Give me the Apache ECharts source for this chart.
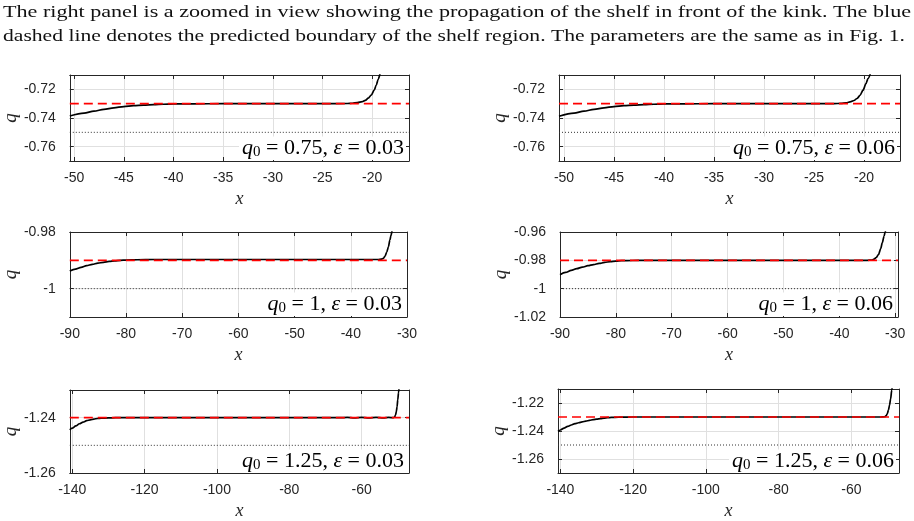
<!DOCTYPE html>
<html>
<head>
<meta charset="utf-8">
<script src="https://cdn.jsdelivr.net/npm/echarts@6/dist/echarts.min.js"></script>
<style>
  html, body { margin: 0; padding: 0; background: #fff; }
  #chart { width: 914px; height: 521px; }
</style>
</head>
<body>
<div id="chart"></div>
<script>
// ================* SHELF PANELS *

const captionLines = [
    'The right panel is a zoomed in view showing the propagation of the shelf in front of the kink. The blue',
    'dashed line denotes the predicted boundary of the shelf region. The parameters are the same as in Fig. 1.'
];

// panel labels (q0, epsilon)
const q0Labels = ['0.75', '0.75', '1', '1', '1.25', '1.25'];
const epsLabels = ['0.03', '0.06', '0.03', '0.06', '0.03', '0.06'];

// shelf level (red dashed) and q = -q0 (dotted)
const shelfQ = [-0.73, -0.73, -0.99, -0.98, -1.24, -1.23];
const baseQ = [-0.75, -0.75, -1, -1, -1.25, -1.25];

// axis limits and tick steps
const xMin = [-50.43, -50.5, -90, -90, -140.66, -140.66];
const xMax = [-16.3, -16.4, -30, -29.5, -46.9, -46.9];
const xStep = [5, 5, 10, 10, 20, 20];
const qMin = [-0.77, -0.77, -1.01, -1.02, -1.26, -1.27];
const qMax = [-0.71, -0.71, -0.98, -0.96, -1.23, -1.21];
const qStep = [0.02, 0.02, 0.02, 0.02, 0.02, 0.02];

// --curves
const x1 = [-50.43, -49, -48, -47, -46, -45, -44, -43, -42, -41, -40, -38, -35, -30, -25, -22.5, -22, -21.5, -21, -20.7, -20.4, -20.1, -19.8, -19.6, -19.4, -19.2];
const q1 = [-0.7386, -0.7366, -0.7352, -0.7340, -0.7329, -0.7320, -0.7314, -0.7310, -0.7307, -0.7304, -0.7302, -0.7301, -0.7300, -0.7300, -0.7300, -0.7299, -0.7297, -0.7293, -0.7286, -0.7277, -0.7262, -0.7240, -0.7205, -0.7172, -0.7130, -0.7085];

const x2 = [-50.5, -49, -48, -47, -46, -45, -44, -43, -42, -41, -40, -38, -35, -30, -25, -23, -22.3, -21.8, -21.3, -21, -20.7, -20.4, -20.1, -19.8, -19.6, -19.3];
const q2 = [-0.7388, -0.7366, -0.7352, -0.7340, -0.7329, -0.7320, -0.7314, -0.7310, -0.7307, -0.7304, -0.7302, -0.7301, -0.7300, -0.7300, -0.7300, -0.7300, -0.7298, -0.7294, -0.7286, -0.7278, -0.7264, -0.7242, -0.7206, -0.7160, -0.7125, -0.7075];

const x3 = [-90, -89, -88, -87, -86, -85, -84, -83, -82, -81, -80, -78, -75, -60, -45, -36, -35.1, -34.6, -34.2, -33.9, -33.6, -33.3, -33.05, -32.85, -32.65, -32.45];
const q3 = [-0.9938, -0.9931, -0.9925, -0.9919, -0.9914, -0.9910, -0.9907, -0.9904, -0.9902, -0.9900, -0.9899, -0.9898, -0.9897, -0.9897, -0.9897, -0.9897, -0.9897, -0.9896, -0.9893, -0.9885, -0.9871, -0.9852, -0.9829, -0.9812, -0.9797, -0.9778];

const x4 = [-90, -89, -88, -87, -86, -85, -84, -83, -82, -81, -80, -79, -77, -75, -60, -45, -35, -34.2, -33.8, -33.4, -33.0, -32.6, -32.3, -32.0, -31.8, -31.6];
const q4 = [-0.9901, -0.9885, -0.9871, -0.9859, -0.9848, -0.9838, -0.9830, -0.9822, -0.9815, -0.9809, -0.9805, -0.9802, -0.9801, -0.9800, -0.9800, -0.9800, -0.9800, -0.9798, -0.9792, -0.9780, -0.9760, -0.9718, -0.9675, -0.9630, -0.9600, -0.9570];

const x5 = [-140.66, -140, -139, -138, -137, -136, -135, -134, -133, -132, -130, -128, -120, -100, -80, -70, -66, -64, -62, -60, -58, -56, -54, -52.5, -51.2, -50.9, -50.6, -50.4, -50.2, -50.0, -49.8, -49.6];
const q5 = [-1.2444, -1.2438, -1.2430, -1.2422, -1.2416, -1.2411, -1.2408, -1.2405, -1.2403, -1.2402, -1.2401, -1.2400, -1.2400, -1.2400, -1.2400, -1.2400, -1.2400, -1.2399, -1.2401, -1.2399, -1.2401, -1.2399, -1.2401, -1.2399, -1.2400, -1.2398, -1.2390, -1.2378, -1.2360, -1.2335, -1.2310, -1.2285];

const x6 = [-140.66, -140, -139, -138, -137, -136, -135, -134, -133, -132, -131, -130, -129, -128, -127, -126, -124, -120, -100, -80, -60, -52, -50.8, -50.4, -50.1, -49.8, -49.5, -49.2, -48.9, -48.7];
const q6 = [-1.2403, -1.2393, -1.2379, -1.2367, -1.2357, -1.2348, -1.2341, -1.2335, -1.2329, -1.2324, -1.2319, -1.2315, -1.2311, -1.2308, -1.2305, -1.2303, -1.2301, -1.2300, -1.2300, -1.2300, -1.2300, -1.2300, -1.2298, -1.2290, -1.2275, -1.2250, -1.2215, -1.2170, -1.2110, -1.2070];

const curvesX = [x1, x2, x3, x4, x5, x6];
const curvesQ = [q1, q2, q3, q4, q5, q6];

// layout of the six boxes (px)
const boxes = [
    { left: 68, top: 75, width: 341, height: 86 },
    { left: 559, top: 75, width: 341, height: 86 },
    { left: 68, top: 232, width: 339, height: 85 },
    { left: 560, top: 232, width: 338, height: 85 },
    { left: 68, top: 390, width: 341, height: 84 },
    { left: 558, top: 389, width: 341, height: 85 }
];

const AXIS_COLOR = '#262626';
const SANS = '"Liberation Sans", Arial, Helvetica, sans-serif';
const SERIF = '"Liberation Serif", "Times New Roman", serif';

function tickFormatter(step) {
    return function (val) {
        let k = val / step;
        if (Math.abs(k - Math.round(k)) > 1e-6) return '';
        return String(+(Math.round(k) * step).toFixed(2));
    };
}

function makeX(i, top) {
    return {
        type: 'value',
        gridIndex: i,
        position: top ? 'top' : 'bottom',
        min: xMin[i],
        max: xMax[i],
        splitNumber: 6,
        minInterval: xStep[i],
        maxInterval: xStep[i],
        name: top ? '' : 'x',
        nameLocation: 'middle',
        nameGap: 29,
        nameTextStyle: { fontFamily: SERIF, fontStyle: 'italic', fontSize: 18, color: AXIS_COLOR },
        axisLine: { show: true, onZero: false, lineStyle: { color: AXIS_COLOR, width: 1 } },
        axisTick: { show: true, inside: true, length: 4, lineStyle: { color: AXIS_COLOR } },
        axisLabel: {
            show: !top,
            margin: 10,
            color: AXIS_COLOR,
            fontFamily: SANS,
            fontSize: 14,
            formatter: tickFormatter(xStep[i])
        },
        splitLine: { show: !top, lineStyle: { color: '#e0e0e0', width: 1 } }
    };
}

function makeY(i, right) {
    return {
        type: 'value',
        gridIndex: i,
        position: right ? 'right' : 'left',
        min: qMin[i],
        max: qMax[i],
        splitNumber: 3,
        minInterval: qStep[i],
        maxInterval: qStep[i],
        name: right ? '' : 'q',
        nameLocation: 'middle',
        nameGap: 42,
        nameTextStyle: { fontFamily: SERIF, fontStyle: 'italic', fontSize: 19, color: AXIS_COLOR },
        axisLine: { show: true, onZero: false, lineStyle: { color: AXIS_COLOR, width: 1 } },
        axisTick: { show: true, inside: true, length: 4, lineStyle: { color: AXIS_COLOR } },
        axisLabel: {
            show: !right,
            margin: 14,
            color: AXIS_COLOR,
            fontFamily: SANS,
            fontSize: 14,
            formatter: tickFormatter(qStep[i])
        },
        splitLine: { show: !right, lineStyle: { color: '#e0e0e0', width: 1 } }
    };
}

let grids = [], xAxes = [], yAxes = [], series = [], titles = [];

boxes.forEach(function (b, i) {
    grids.push({ left: b.left, top: b.top, width: b.width, height: b.height, containLabel: false });
    xAxes.push(makeX(i, false), makeX(i, true));
    yAxes.push(makeY(i, false), makeY(i, true));

    let curve = curvesX[i].map(function (x, k) { return [x, curvesQ[i][k]]; });

    // dotted q = -q0
    series.push({
        type: 'line',
        xAxisIndex: 2 * i,
        yAxisIndex: 2 * i,
        data: [[xMin[i], baseQ[i]], [xMax[i], baseQ[i]]],
        symbol: 'none',
        lineStyle: { color: '#333', width: 1, type: [1, 2] },
        silent: true,
        z: 2
    });
    // solution
    series.push({
        type: 'line',
        xAxisIndex: 2 * i,
        yAxisIndex: 2 * i,
        data: curve,
        symbol: 'none',
        smooth: 0.3,
        smoothMonotone: 'x',
        clip: true,
        lineStyle: { color: '#000', width: 1.7 },
        z: 3
    });
    // predicted shelf
    series.push({
        type: 'line',
        xAxisIndex: 2 * i,
        yAxisIndex: 2 * i,
        data: [[xMin[i], shelfQ[i]], [xMax[i], shelfQ[i]]],
        symbol: 'none',
        lineStyle: { color: '#ff0000', width: 1.6, type: [9, 5] },
        z: 4
    });

    titles.push({
        text: '{i|q}{s|0}{n| = ' + q0Labels[i] + ', }{i|ε}{n| = ' + epsLabels[i] + '}',
        right: 914 - (b.left + b.width) + 3,
        top: b.top + b.height - 25,
        padding: [1, 2, 0, 3],
        backgroundColor: '#fff',
        textStyle: {
            fontFamily: SERIF,
            fontWeight: 'normal',
            color: '#000',
            fontSize: 22,
            rich: {
                i: { fontFamily: SERIF, fontStyle: 'italic', fontSize: 22, lineHeight: 23, color: '#000' },
                n: { fontFamily: SERIF, fontSize: 22, lineHeight: 23, color: '#000' },
                s: { fontFamily: SERIF, fontSize: 15, lineHeight: 15, verticalAlign: 'bottom', color: '#000' }
            }
        }
    });
});

// caption lines, stretched to the justified width
let measure = document.createElement('canvas').getContext('2d');
let captionFont = '17.5px "Liberation Serif"';
measure.font = captionFont;
let captionWidths = [908, 902];
let captionY = [12, 36];
let graphics = captionLines.map(function (line, k) {
    let w = measure.measureText(line).width;
    return {
        type: 'text',
        x: 3,
        y: captionY[k],
        scaleX: captionWidths[k] / w,
        style: {
            text: line,
            font: captionFont,
            fill: '#111',
            verticalAlign: 'middle',
            align: 'left'
        }
    };
});

var chart = echarts.init(document.getElementById('chart'));
chart.setOption({
    animation: false,
    backgroundColor: '#fff',
    title: titles,
    grid: grids,
    xAxis: xAxes,
    yAxis: yAxes,
    series: series,
    graphic: graphics
});
</script>
</body>
</html>
